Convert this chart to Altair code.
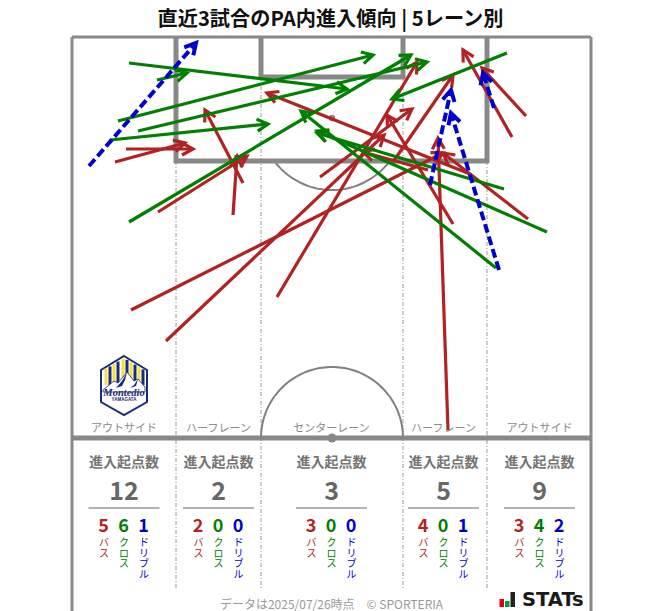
import math
import numpy as np
import pandas as pd
import altair as alt

FONT = "Noto Sans CJK JP"
RED, GREEN, BLUE = "#b22222", "#008000", "#0000cd"
GRAY = "#888888"

# Arrows: start x, start y, end x, end y (in the picture's pitch units)
passes = [
    (126,149,193,149),(115,162,185,143),(158,212,247,156),(131,310,443,153),(166,341,384,135),
    (243,183,205,110),(233,215,237,156),
    (277,297,417,62),(320,177,412,109),(393,162,453,75),
    (453,224,387,115),(448,430,438,138),(470,174,267,93),(428,170,363,152),
    (528,219,443,153),(512,137,463,50),(526,116,482,68),
]
crosses = [
    (129,63,347,89),(157,80,187,73),(118,121,373,55),(138,131,427,62),(110,140,268,124),(129,222,411,55),
    (507,53,392,99),(504,189,317,133),(547,232,317,131),(496,268,301,111),
]
dribbles = [
    (89,166,196,43),(430,185,451,90),(499,270,451,113),(494,108,483,73),
]

lane_x = [124, 218.5, 331.5, 443.5, 539.5]
lane_names = ["アウトサイド", "ハーフレーン", "センターレーン", "ハーフレーン", "アウトサイド"]
lane_totals = [12, 2, 3, 5, 9]
lane_pass = [5, 2, 3, 4, 3]
lane_cross = [6, 0, 0, 0, 4]
lane_drib = [1, 0, 0, 1, 2]
kinds = ["バ\nス", "ク\nロ\nス", "ド\nリ\nブ\nル"]
kind_colors = [RED, GREEN, BLUE]
kind_offset = [-20, 0, 20]

X = alt.X("x:Q", scale=alt.Scale(domain=[8, 655], nice=False, zero=False), axis=None)
Y = alt.Y("y:Q", scale=alt.Scale(domain=[611, 8], nice=False, zero=False), axis=None)
X2, Y2 = alt.X2("x2:Q"), alt.Y2("y2:Q")


def rules(segs, color, width, dash=None, cap="butt"):
    df = pd.DataFrame(segs, columns=["x", "y", "x2", "y2"])
    kw = dict(color=color, strokeWidth=width, strokeCap=cap)
    if dash:
        kw["strokeDash"] = dash
    return alt.Chart(df).mark_rule(**kw).encode(x=X, y=Y, x2=X2, y2=Y2)


def arrows(segs, color, width=3.2, dash=None):
    df = pd.DataFrame(segs, columns=["x0", "y0", "x", "y"])
    df["angle"] = [math.degrees(math.atan2(c - a, b - d)) % 360 for a, b, c, d in
                   zip(df.x0, df.y0, df.x, df.y)]
    line = rules([(a, b, c, d) for a, b, c, d in segs], color, width, dash)
    head = alt.Chart(df).mark_point(
        shape="M -6 11 L 0 0 L 6 11", size=4, filled=False, stroke=color,
        strokeWidth=width, opacity=1, strokeJoin="miter",
    ).encode(x=X, y=Y, angle=alt.Angle("angle:Q", scale=alt.Scale(domain=[0, 360], range=[0, 360])))
    return line + head


def text(rows, size, color, bold=False, font=FONT, **kw):
    df = pd.DataFrame(rows, columns=["x", "y", "t"])
    return alt.Chart(df).mark_text(
        font=font, fontSize=size, color=color, fontWeight="bold" if bold else "normal",
        align=kw.pop("align", "center"), baseline="middle", **kw,
    ).encode(x=X, y=Y, text="t:N")


def glyph(path, cx, cy, fill=None, stroke=None, sw=1):
    kw = dict(shape=path, size=4, opacity=1, strokeWidth=sw, filled=fill is not None)
    if fill:
        kw["fill"] = fill
    if stroke:
        kw["stroke"] = stroke
    else:
        kw["strokeWidth"] = 0
    return alt.Chart(pd.DataFrame({"x": [cx], "y": [cy]})).mark_point(**kw).encode(x=X, y=Y)


def curve(cx, cy, r, a0, a1):
    t = np.radians(np.arange(a0, a1 + 1, 2))
    df = pd.DataFrame({"x": cx + r * np.cos(t), "y": cy + r * np.sin(t), "o": np.arange(len(t))})
    return alt.Chart(df).mark_line(color="#808080", strokeWidth=2).encode(x=X, y=Y, order="o:Q")


layers = []

# Lane dividers
dividers = [(176, 161, 176, 590), (261, 77, 261, 590), (403, 77, 403, 590), (487, 161, 487, 590)]
layers.append(rules(dividers, "#9a9a9a", 1, dash=[4, 2, 1, 2]))

# Pitch
layers.append(curve(332, 118, 72, 37, 143))
layers.append(curve(332, 438, 71, 180, 360))
layers.append(rules([(72, 37, 591, 37), (72, 37, 72, 611), (591, 37, 591, 611)], GRAY, 3))
layers.append(rules([(176, 37, 176, 163), (487, 37, 487, 163), (174, 161, 489, 161),
                     (261, 37, 261, 79), (403, 37, 403, 79), (259, 77, 405, 77)], GRAY, 5))
layers.append(rules([(71, 438, 592, 438)], GRAY, 5))
spots = pd.DataFrame({"x": [332, 332], "y": [118, 438], "s": [40, 80]})
layers.append(alt.Chart(spots).mark_circle(color=GRAY, opacity=1).encode(
    x=X, y=Y, size=alt.Size("s:Q", scale=None, legend=None)))

# Arrows
layers.append(arrows(passes, RED))
layers.append(arrows(crosses, GREEN))
layers.append(arrows(dribbles, BLUE, width=4, dash=[9, 4]))

# Lane panels
layers.append(text([(x, 429, n) for x, n in zip(lane_x, lane_names)], 11, "#8a8a8a"))
layers.append(text([(x, 463, "進入起点数") for x in lane_x], 14, "#757575", bold=True))
layers.append(text([(x, 492, str(v)) for x, v in zip(lane_x, lane_totals)], 25, "#666666", bold=True))
layers.append(rules([(x - 35.5, 508, x + 35.5, 508) for x in lane_x], "#666666", 1))
for off, col, vals, kind in zip(kind_offset, kind_colors, [lane_pass, lane_cross, lane_drib], kinds):
    layers.append(text([(x + off - 0.5, 527, str(v)) for x, v in zip(lane_x, vals)], 18, col, bold=True))
    layers.append(alt.Chart(pd.DataFrame({"x": [x + off for x in lane_x], "y": [538] * 5, "t": [kind] * 5}))
                  .mark_text(font=FONT, fontSize=10, color=col, lineBreak="\n", lineHeight=10.5,
                             baseline="top", align="center")
                  .encode(x=X, y=Y, text="t:N"))

# Title and footer
layers.append(text([(330.5, 20, "直近3試合のPA内進入傾向 | 5レーン別")], 20.2, "#111111", bold=True))
layers.append(text([(331.5, 605, "データは2025/07/26時点　© SPORTERIA")], 12, "#999999"))

# STATs mark
bars = pd.DataFrame({"x": [499.5, 505, 510.5], "x2": [504, 509.5, 515], "y": [599, 601, 592], "y2": [607, 607, 607],
                     "c": ["#e60012", "#00a040", "#222222"]})
layers.append(alt.Chart(bars).mark_rect().encode(x=X, x2=X2, y=Y, y2=Y2, color=alt.Color("c:N", scale=None, legend=None)))
layers.append(text([(522, 600, "STATs")], 19.5, "#1a1a1a", bold=True, align="left", font="DejaVu Sans"))

# Club crest
NAVY = "#1c2a7a"
YEL = "#f4e23c"
cx, cy = 124, 386
layers.append(glyph("M0 -30 L23 -16 L23 16 L0 29 L-23 16 L-23 -16 Z", cx, cy, fill="white", stroke=NAVY, sw=2))
for off, col in [(-18, YEL), (-14, NAVY), (-10, YEL), (-6, NAVY), (-1, YEL), (3, NAVY), (7, YEL), (11, NAVY), (15, YEL), (19, NAVY)]:
    top = -30 + abs(off) * 0.6 + 2
    layers.append(glyph(f"M{off-1.5} {top} L{off+1.5} {top} L{off+1.5} -1 L{off-1.5} -1 Z", cx, cy, fill=col))
layers.append(glyph("M-21 4 L-10 -5 L-6 -3 L3 -14 L10 -5 L14 -7 L21 1 L21 6 L-21 6 Z", cx, cy, fill="white", stroke=NAVY, sw=0.8))
layers.append(glyph("M3 -14 L-2 -5 L-8 2 L-2 0 L1 -6 Z M14 -7 L10 -1 L6 2 L12 0 Z", cx, cy, fill=NAVY))
layers.append(alt.Chart(pd.DataFrame({"x": [124], "y": [393], "t": ["Montedio"]})).mark_text(
    font="Liberation Serif", fontSize=10.5, fontWeight="bold", fontStyle="italic", color=NAVY,
    baseline="middle", align="center").encode(x=X, y=Y, text="t:N"))
layers.append(alt.Chart(pd.DataFrame({"x": [124], "y": [400], "t": ["YAMAGATA"]})).mark_text(
    font="Liberation Sans", fontSize=4.5, fontWeight="bold", color=NAVY,
    baseline="middle", align="center").encode(x=X, y=Y, text="t:N"))

chart = alt.layer(*layers).properties(
    width=647, height=603, padding=0, autosize=alt.AutoSizeParams(type="none"),
    background="white",
).configure_view(stroke=None)

chart.save("out.html", embed_options={"renderer": "svg", "actions": False})
